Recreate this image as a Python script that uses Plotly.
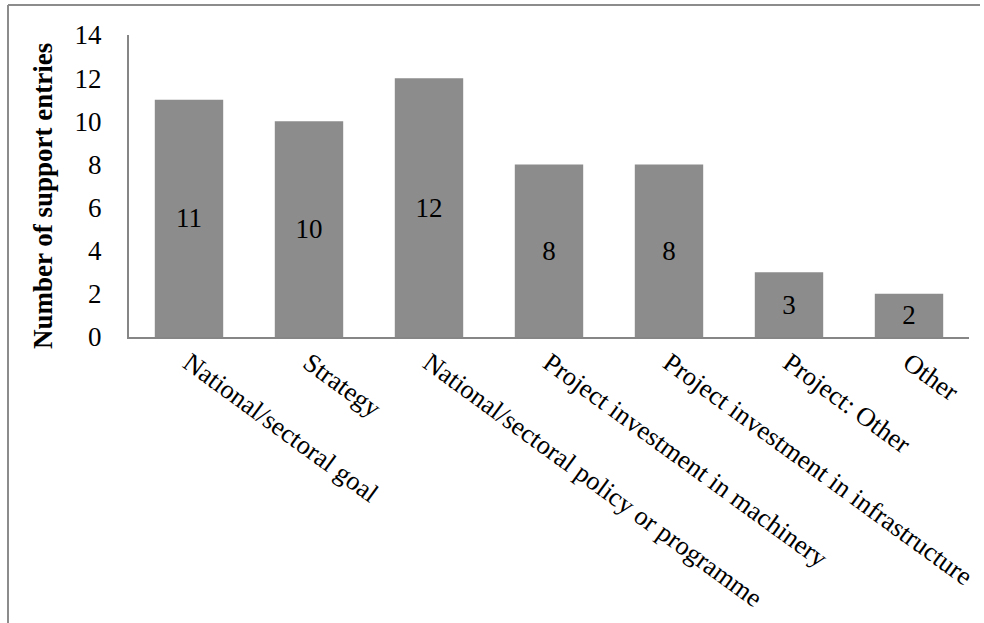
import plotly.graph_objects as go

categories = [
    "National/sectoral goal",
    "Strategy",
    "National/sectoral policy or programme",
    "Project investment in machinery",
    "Project investment in infrastructure",
    "Project: Other",
    "Other",
]
values = [11, 10, 12, 8, 8, 3, 2]
y_ticks = [0, 2, 4, 6, 8, 10, 12, 14]
y_title = "Number of support entries"

FONT = "Liberation Serif, Times New Roman, serif"
FS = 27

fig = go.Figure(
    go.Bar(
        x=categories,
        y=values,
        text=[str(v) for v in values],
        textposition="inside",
        insidetextanchor="middle",
        textangle=0,
        textfont=dict(family=FONT, size=FS, color="black"),
        marker=dict(color="#8c8c8c", line=dict(width=0)),
        cliponaxis=False,
    )
)

fig.update_layout(
    width=984,
    height=623,
    margin=dict(l=129, r=15, t=35, b=286, autoexpand=False),
    paper_bgcolor="white",
    plot_bgcolor="white",
    bargap=0.43,
    showlegend=False,
    font=dict(family=FONT, size=FS, color="black"),
    uniformtext=dict(mode=False),
)

fig.update_xaxes(
    automargin=False,
    showline=True,
    linecolor="#868686",
    linewidth=2,
    showgrid=False,
    ticks="",
    tickangle=36,
    ticklabelstandoff=-2,
    tickfont=dict(family=FONT, size=FS - 0.5, color="black"),
    zeroline=False,
)

fig.update_yaxes(
    automargin=False,
    range=[0, 14],
    tickvals=y_ticks,
    showline=True,
    linecolor="#868686",
    linewidth=2,
    showgrid=False,
    zeroline=False,
    ticks="",
    ticklabelstandoff=20,
    tickfont=dict(family=FONT, size=FS, color="black"),
)

fig.add_annotation(
    text="<b>" + y_title + "</b>",
    textangle=-90,
    xref="paper", yref="paper",
    x=(43 - 129) / 840, y=(337 - 196) / 302,
    showarrow=False,
    font=dict(family=FONT, size=FS, color="black"),
    xanchor="center", yanchor="middle",
)

# outer chart-area border (left and top visible)
fig.add_shape(type="line", xref="paper", yref="paper",
              x0=(8 - 129) / 840, x1=(8 - 129) / 840,
              y0=(337 - 5) / 302, y1=(337 - 630) / 302,
              line=dict(color="#8c8c8c", width=2))
fig.add_shape(type="line", xref="paper", yref="paper",
              x0=(8 - 129) / 840, x1=(980 - 129) / 840,
              y0=(337 - 5) / 302, y1=(337 - 5) / 302,
              line=dict(color="#8c8c8c", width=2))

fig.write_html(
    "out.html",
    config={"displayModeBar": False},
    post_script="document.body.style.margin='0';document.body.style.overflow='hidden';",
)
